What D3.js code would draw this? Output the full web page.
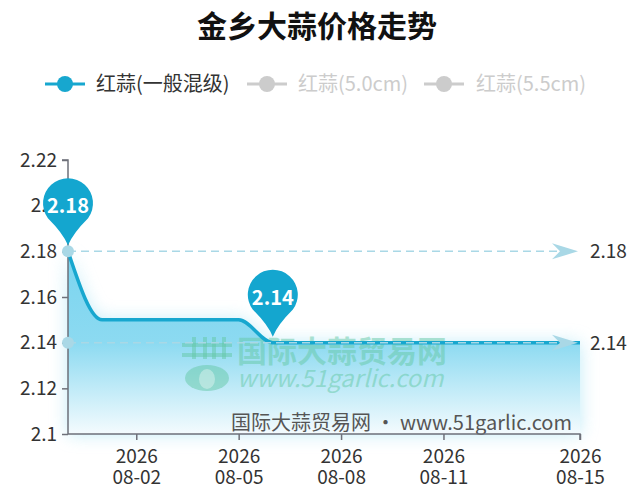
<!DOCTYPE html>
<html><head><meta charset="utf-8">
<script src="https://cdn.jsdelivr.net/npm/d3@7"></script>
<style>
body{margin:0;background:#fff}
svg{display:block}
text{font-family:"Noto Sans CJK SC","Noto Sans",sans-serif}
</style>
</head><body>
<svg id="c" width="635" height="496"></svg>
<script>
// ---- data ----
const title = "金乡大蒜价格走势";
const seriesNames = ["红蒜(一般混级)", "红蒜(5.0cm)", "红蒜(5.5cm)"];
const seriesActive = [true, false, false];
const year = "2026";
const dates = ["07-31","08-01","08-02","08-03","08-04","08-05","08-06","08-07","08-08","08-09","08-10","08-11","08-12","08-13","08-14","08-15"];
const prices = [2.18,2.15,2.15,2.15,2.15,2.15,2.14,2.14,2.14,2.14,2.14,2.14,2.14,2.14,2.14,2.14];
const yTicks = [2.1,2.12,2.14,2.16,2.18,2.2,2.22];
const xLabelDates = ["08-02","08-05","08-08","08-11","08-15"];
const watermarkCn = "国际大蒜贸易网";
const watermarkUrl = "www.51garlic.com";
const footer = "国际大蒜贸易网 · www.51garlic.com";

// ---- layout ----
const W = 635, H = 496;
const L = 68, R = 580, T = 160, B = 434;
const lineColor = "#17a7cf";
const markColor = "#a9d8e6";
const FONT = '"Noto Sans CJK SC","Noto Sans",sans-serif';

const svg = d3.select("#c");
const defs = svg.append("defs");

const x = d3.scalePoint().domain(dates).range([L, R]);
const y = d3.scaleLinear().domain([2.1, 2.22]).range([B, T]);

// title
svg.append("text").attr("x", 317).attr("y", 37).attr("text-anchor","middle")
  .attr("font-size", 30).attr("font-weight","bold").attr("fill","#111").text(title);

// legend
const legendPos = [{lx:45, tx:96}, {lx:247, tx:298}, {lx:424, tx:476}];
seriesNames.forEach((n,i) => {
  const c = seriesActive[i] ? lineColor : "#cccccc";
  const g = svg.append("g");
  const p = legendPos[i];
  g.append("line").attr("x1", p.lx).attr("x2", p.lx+40).attr("y1", 84).attr("y2", 84)
    .attr("stroke", c).attr("stroke-width", 3);
  g.append("circle").attr("cx", p.lx+20).attr("cy", 84).attr("r", 8).attr("fill", c);
  g.append("text").attr("x", p.tx).attr("y", 91).attr("font-size", 20)
    .attr("fill", seriesActive[i] ? "#333" : "#cccccc").text(n);
});

// gradient
const grad = defs.append("linearGradient").attr("id","ag").attr("gradientUnits","userSpaceOnUse")
  .attr("x1",0).attr("x2",0).attr("y1", y(2.18)).attr("y2", B);
grad.append("stop").attr("offset",0).attr("stop-color","#7ad4ef");
grad.append("stop").attr("offset",0.5).attr("stop-color","#8cdaf1");
grad.append("stop").attr("offset",1).attr("stop-color","#f4fbfe");
defs.append("filter").attr("id","blur").attr("x","-20%").attr("y","-40%").attr("width","140%").attr("height","180%")
  .append("feGaussianBlur").attr("stdDeviation", 9);

const pts = dates.map((d,i) => [x(d), y(prices[i])]);
const area = d3.area().x(d=>d[0]).y0(B).y1(d=>d[1]).curve(d3.curveMonotoneX);
const line = d3.line().x(d=>d[0]).y(d=>d[1]).curve(d3.curveMonotoneX);

svg.append("path").attr("d", area(pts)).attr("fill","#8fdcf2").attr("opacity",0.55).attr("filter","url(#blur)");
svg.append("path").attr("d", area(pts)).attr("fill","url(#ag)");

// watermark (logo + text)
const wm = "rgba(100,200,165,0.5)";
const logo = svg.append("g").attr("fill", wm);
logo.append("rect").attr("x",182).attr("y",343).attr("width",50).attr("height",4);
logo.append("rect").attr("x",182).attr("y",353).attr("width",50).attr("height",4);
[192,203,212,222].forEach(vx => logo.append("rect").attr("x",vx).attr("y",337).attr("width",4).attr("height",22));
logo.append("ellipse").attr("cx",207).attr("cy",378).attr("rx",22).attr("ry",13);
svg.append("ellipse").attr("cx",207).attr("cy",379).attr("rx",8).attr("ry",10).attr("fill","rgba(255,255,255,0.35)");
svg.append("text").attr("x",237).attr("y",362).attr("font-size",30).attr("font-weight","bold")
  .attr("fill", wm).text(watermarkCn);
svg.append("text").attr("x",237).attr("y",387).attr("font-size",24).attr("font-style","italic")
  .attr("fill", wm).text(watermarkUrl);

// footer watermark
svg.append("text").attr("x",572).attr("y",430).attr("text-anchor","end").attr("font-size",20)
  .attr("fill","#555").text(footer);

// axes
const yAxis = svg.append("g").attr("transform",`translate(${L},0)`)
  .call(d3.axisLeft(y).tickValues(yTicks).tickFormat(d=>String(d)).tickSize(6).tickPadding(5));
yAxis.select(".domain").attr("stroke","#6e7079").attr("stroke-width",1.5).attr("d",`M-6,${T}H0V${B}`);
yAxis.selectAll(".tick line").attr("stroke","#6e7079").attr("stroke-width",1.5);
yAxis.selectAll(".tick text").attr("font-size",19).attr("fill","#333").attr("font-family",FONT);

const xAxis = svg.append("g").attr("transform",`translate(0,${B})`)
  .call(d3.axisBottom(x).tickValues(xLabelDates).tickSize(6).tickFormat(""));
xAxis.select(".domain").attr("stroke","#6e7079").attr("stroke-width",1.5).attr("d",`M${L},0H${R}V6`);
xAxis.selectAll(".tick line").attr("stroke","#6e7079").attr("stroke-width",1.5);
xAxis.selectAll(".tick").each(function(d){
  const t = d3.select(this).append("text").attr("text-anchor","middle").attr("fill","#333")
    .attr("font-size",19).attr("font-family",FONT);
  t.append("tspan").attr("x",0).attr("y",29).text(year);
  t.append("tspan").attr("x",0).attr("y",50).text(d);
});

// series line
svg.append("path").attr("d", line(pts)).attr("fill","none").attr("stroke",lineColor).attr("stroke-width",3.5);

// mark lines (max & min)
const maxV = d3.max(prices), minV = d3.min(prices);
[maxV, minV].forEach(v => {
  const yy = y(v);
  svg.append("line").attr("x1", L).attr("x2", R-20).attr("y1", yy).attr("y2", yy)
    .attr("stroke", markColor).attr("stroke-width", 1.5).attr("stroke-dasharray","8,5");
  svg.append("circle").attr("cx", L).attr("cy", yy).attr("r", 6).attr("fill", markColor);
  svg.append("path").attr("transform",`translate(${R-2},${yy})`)
    .attr("d","M0,0L-26,-8L-18,0L-26,8Z").attr("fill", markColor);
  svg.append("text").attr("x", R+10).attr("y", yy+7).attr("font-size",19).attr("fill","#333").text(String(v));
});

// mark points (pins)
function pinPath(r, d){
  const a = Math.acos(r/d);
  const tx = r*Math.sin(a), ty = -d + r*Math.cos(a);
  return `M0,0Q${tx*0.25},${ty*0.45} ${tx},${ty}A${r},${r} 0 1 0 ${-tx},${ty}Q${-tx*0.25},${ty*0.45} 0,0Z`;
}
const maxI = prices.indexOf(maxV), minI = prices.indexOf(minV);
[[maxI,maxV],[minI,minV]].forEach(([i,v]) => {
  const px = x(dates[i]), py = y(v) - 6;
  const g = svg.append("g").attr("transform",`translate(${px},${py})`);
  g.append("path").attr("d", pinPath(25, 42)).attr("fill","#14a6cf");
  g.append("text").attr("x",0).attr("y",-32).attr("text-anchor","middle").attr("font-size",20)
    .attr("font-weight","bold").attr("fill","#fff").text(String(v));
});
</script>
</body></html>
